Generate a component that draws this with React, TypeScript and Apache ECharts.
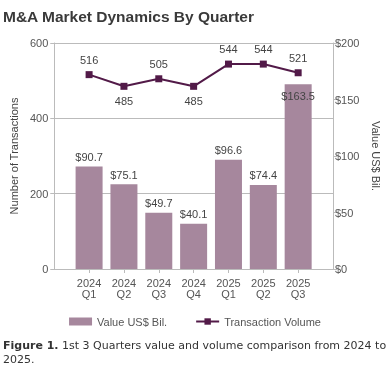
import React, { useEffect, useRef } from "react";
import * as echarts from "echarts";

const categories = ["2024\nQ1", "2024\nQ2", "2024\nQ3", "2024\nQ4", "2025\nQ1", "2025\nQ2", "2025\nQ3"];
const valueBil = [90.7, 75.1, 49.7, 40.1, 96.6, 74.4, 163.5];
const volume = [516, 485, 505, 485, 544, 544, 521];
const volumeLabelBelow = [false, true, false, true, false, false, false];
const leftTicks = { min: 0, max: 600, interval: 200 };
const rightTicks = { min: 0, max: 200, interval: 50 };

const FONT = "'Liberation Sans', Arial, sans-serif";
const BAR = "#a6879d";
const LINE = "#521a48";

export default function App() {
  const ref = useRef<HTMLDivElement>(null);
  useEffect(() => {
    const chart = echarts.init(ref.current!, null, { renderer: "svg" });
    const axisCats = ["", ...categories, ""];
    const barData = [null, ...valueBil.map((v, i) => ({
      value: v,
      label: i === valueBil.length - 1 ? { position: "insideTop", distance: 6 } : undefined,
    })), null];
    const lineData = [null, ...volume.map((v, i) => ({
      value: v,
      label: { position: volumeLabelBelow[i] ? "bottom" : "top" },
    })), null];
    chart.setOption({
      animation: false,
      textStyle: { fontFamily: FONT },
      title: {
        text: "M&A Market Dynamics By Quarter",
        left: -2,
        top: 3,
        textStyle: { fontFamily: FONT, fontSize: 15.5, fontWeight: "bold", color: "#3a3a3a" },
      },
      grid: { left: 53, right: 57, top: 43, bottom: 111 },
      legend: {
        bottom: 48,
        left: "center",
        itemWidth: 23,
        itemHeight: 8,
        itemGap: 28,
        textStyle: { fontFamily: FONT, fontSize: 11, color: "#555" },
        data: [
          { name: "Value US$ Bil.", icon: "rect" },
          { name: "Transaction Volume" },
        ],
      },
      xAxis: {
        type: "category",
        data: axisCats,
        boundaryGap: false,
        axisLine: { lineStyle: { color: "#bbb" } },
        axisTick: { show: true, length: 4, lineStyle: { color: "#bbb" }, interval: (i: number) => i > 0 && i < axisCats.length - 1 },
        axisLabel: { color: "#555", fontSize: 11, lineHeight: 11, margin: 8, interval: 0, fontFamily: FONT },
        splitLine: { show: false },
      },
      yAxis: [
        {
          type: "value",
          ...leftTicks,
          name: "Number of Transactions",
          nameLocation: "middle",
          nameRotate: 90,
          nameGap: 30,
          nameTextStyle: { color: "#444", fontSize: 11, fontFamily: FONT },
          axisLine: { show: true, lineStyle: { color: "#bbb" } },
          axisTick: { show: true, length: 4, lineStyle: { color: "#bbb" } },
          axisLabel: { color: "#555", fontSize: 11, margin: 6, fontFamily: FONT },
          splitLine: { show: true, lineStyle: { color: "#bbb" } },
        },
        {
          type: "value",
          ...rightTicks,
          position: "right",
          name: "Value US$ Bil.",
          nameLocation: "middle",
          nameRotate: -90,
          nameGap: 37,
          nameTextStyle: { color: "#444", fontSize: 11, fontFamily: FONT },
          axisLine: { show: true, lineStyle: { color: "#bbb" } },
          axisTick: { show: true, length: 4, lineStyle: { color: "#bbb" } },
          axisLabel: { color: "#555", fontSize: 11, margin: 2, formatter: (v: number) => "$" + v, fontFamily: FONT },
          splitLine: { show: false },
        },
      ],
      series: [
        {
          name: "Value US$ Bil.",
          type: "bar",
          yAxisIndex: 1,
          barWidth: 27,
          itemStyle: { color: BAR },
          label: {
            show: true,
            position: "top",
            distance: 4,
            color: "#444",
            fontSize: 11,
            fontFamily: FONT,
            formatter: (p: any) => "$" + p.value.toFixed(1),
          },
          data: barData,
        },
        {
          name: "Transaction Volume",
          type: "line",
          yAxisIndex: 0,
          symbol: "rect",
          symbolSize: 7,
          lineStyle: { color: LINE, width: 2 },
          itemStyle: { color: LINE },
          label: { show: true, distance: 6, color: "#444", fontSize: 11, fontFamily: FONT },
          data: lineData,
        },
      ],
      graphic: [
        {
          type: "text",
          left: 3,
          top: 338,
          style: {
            text: "{b|Figure 1.} 1st 3 Quarters value and volume comparison from 2024 to\n2025.",
            fontFamily: "'DejaVu Sans', Verdana, sans-serif",
            fontSize: 11,
            lineHeight: 14,
            fill: "#333",
            rich: {
              b: { fontFamily: "'DejaVu Sans', Verdana, sans-serif", fontSize: 11, fontWeight: "bold", fill: "#333" },
            },
          },
        },
      ],
    });
    return () => chart.dispose();
  }, []);
  return <div ref={ref} style={{ position: "fixed", left: 0, top: 0, width: 390, height: 380 }} />;
}
